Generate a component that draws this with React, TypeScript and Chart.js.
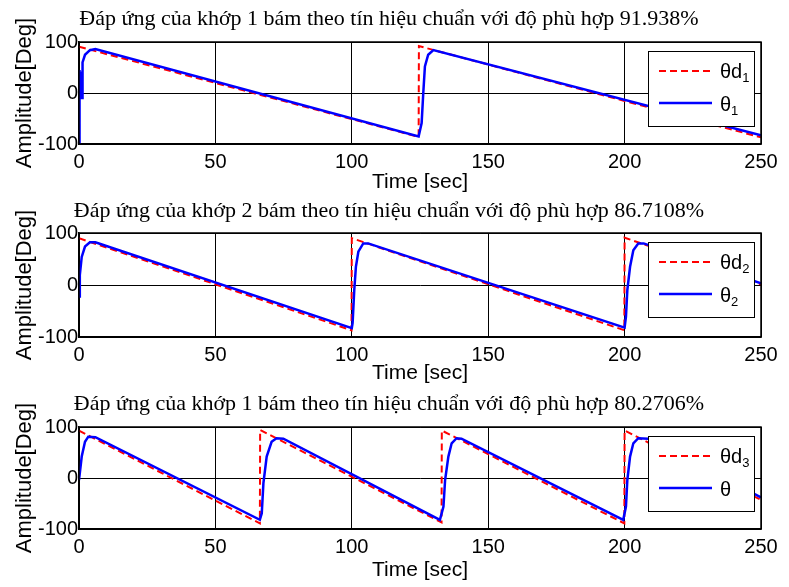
import React, { useEffect, useRef } from "react";
import { Chart, registerables } from "chart.js";

Chart.register(...registerables);

// ---------- data ----------
const TITLES = [
  "Đáp ứng của khớp 1 bám theo tín hiệu chuẩn với độ phù hợp 91.938%",
  "Đáp ứng của khớp 2 bám theo tín hiệu chuẩn với độ phù hợp 86.7108%",
  "Đáp ứng của khớp 1 bám theo tín hiệu chuẩn với độ phù hợp 80.2706%",
];

const X_TICKS = [0, 50, 100, 150, 200, 250];
const Y_TICKS = [-100, 0, 100];
const X_TITLE = "Time [sec]";
const Y_TITLE = "Amplitude[Deg]";

const REF_LABELS = ["θd", "θd", "θd"];
const REF_SUBS = ["1", "2", "3"];
const ACT_LABELS = ["θ", "θ", "θ"];
const ACT_SUBS = ["1", "2", ""];

// joint 1 (panel 1)
const REF1_T = [0, 4, 124.5, 124.6, 250];
const REF1_Y = [91, 85, -86, 92, -87];
const ACT1_T = [0, 0.1, 0.3, 0.5, 0.7, 0.9, 1.1, 1.3, 2.2, 4, 6, 124.5, 125.6, 126.2, 126.8, 128, 129.9, 250];
const ACT1_Y = [-100, 45, -5, 40, 0, 42, -10, 60, 75, 84, 86, -85, -59, 0, 52, 75, 84, -83];

// joint 2 (panel 2)
const REF2_T = [0, 99.9, 100, 199.9, 200, 250];
const REF2_Y = [90, -87, 90, -87, 91, 1];
const ACT2_T = [0, 0.3, 1, 2.2, 4, 6, 100, 100.3, 100.9, 101.5, 102.4, 104.2, 106, 200, 200.5, 201, 202, 203.2, 205, 207, 250];
const ACT2_Y = [-22, 19, 54, 74, 82, 82, -83, -73, -10, 35, 64, 80, 80, -82, -61, -10, 35, 67, 80, 80, 3];

// joint 3 (panel 3)
const REF3_T = [0, 66.3, 66.4, 132.9, 133, 199.9, 200, 250];
const REF3_Y = [93, -89, 94, -87, 93, -89, 93, -43];
const ACT3_T = [0, 1, 2.2, 3.4, 6, 66.3, 67, 67.6, 68.8, 70.6, 72.4, 74.9, 132.3, 133.6, 134.2, 135.4, 136.6, 138.4, 140.2, 199.5, 200.5, 201, 202, 203.2, 205, 208.7, 250];
const ACT3_Y = [-4, 42, 71, 81, 80, -82, -69, -10, 42, 71, 78, 77, -82, -56, -4, 42, 68, 78, 77, -82, -56, -4, 42, 68, 78, 77, -38];

const REF_T = [REF1_T, REF2_T, REF3_T];
const REF_Y = [REF1_Y, REF2_Y, REF3_Y];
const ACT_T = [ACT1_T, ACT2_T, ACT3_T];
const ACT_Y = [ACT1_Y, ACT2_Y, ACT3_Y];

// ---------- layout ----------
const W = 789;
const PANELS = [
  { top: 0, height: 195, padTop: 42, xAxisH: 51, xTitlePad: 0, titleY: 25 },
  { top: 195, height: 195, padTop: 38, xAxisH: 53, xTitlePad: 4, titleY: 22 },
  { top: 390, height: 197, padTop: 37, xAxisH: 58, xTitlePad: 4, titleY: 20 },
];

const SANS = '"Liberation Sans", Arial, sans-serif';
const SERIF = '"Liberation Serif", "Times New Roman", serif';

function toPoints(t: number[], y: number[]) {
  return t.map((v, i) => ({ x: v, y: y[i] }));
}

const decorPlugin = {
  id: "panelDecor",
  afterDraw(chart: any, _args: any, opts: any) {
    const ctx = chart.ctx as CanvasRenderingContext2D;
    const ca = chart.chartArea;
    ctx.save();
    // axes box
    ctx.strokeStyle = "#000";
    ctx.lineWidth = 1.5;
    ctx.strokeRect(ca.left, ca.top, ca.right - ca.left, ca.bottom - ca.top);

    // title
    ctx.fillStyle = "#000";
    ctx.font = "22px " + SERIF;
    ctx.textAlign = "center";
    ctx.textBaseline = "alphabetic";
    ctx.fillText(opts.title, 389, opts.titleY);

    // legend
    const bw = 106, bh = 75;
    const bx = ca.right - 7 - bw;
    const by = ca.top + 9;
    ctx.fillStyle = "#fff";
    ctx.fillRect(bx, by, bw, bh);
    ctx.strokeStyle = "#000";
    ctx.lineWidth = 1;
    ctx.strokeRect(bx + 0.5, by + 0.5, bw, bh);

    const ds = chart.data.datasets;
    const rows = [
      { d: ds[1], y: by + 20, ty: by + 21, label: opts.refLabel, sub: opts.refSub },
      { d: ds[0], y: by + 52, ty: by + 54, label: opts.actLabel, sub: opts.actSub },
    ];
    rows.forEach((r) => {
      ctx.strokeStyle = r.d.borderColor;
      ctx.lineWidth = r.d.borderWidth;
      ctx.setLineDash(r.d.borderDash || []);
      ctx.beginPath();
      ctx.moveTo(bx + 11, r.y);
      ctx.lineTo(bx + 64, r.y);
      ctx.stroke();
      ctx.setLineDash([]);
      ctx.fillStyle = "#000";
      ctx.textAlign = "left";
      ctx.textBaseline = "middle";
      ctx.font = "20px " + SANS;
      ctx.fillText(r.label, bx + 72, r.ty);
      const w = ctx.measureText(r.label).width;
      if (r.sub) {
        ctx.font = "13px " + SANS;
        ctx.fillText(r.sub, bx + 72 + w, r.ty + 6);
      }
    });
    ctx.restore();
  },
};

function Panel({ idx }: { idx: number }) {
  const ref = useRef<HTMLCanvasElement | null>(null);
  const p = PANELS[idx];
  useEffect(() => {
    if (!ref.current) return;
    const chart = new Chart(ref.current, {
      type: "line",
      data: {
        datasets: [
          {
            label: ACT_LABELS[idx] + ACT_SUBS[idx],
            data: toPoints(ACT_T[idx], ACT_Y[idx]),
            borderColor: "#0000ff",
            borderWidth: 2.5,
            pointRadius: 0,
            tension: 0,
            fill: false,
            order: 0,
          },
          {
            label: REF_LABELS[idx] + REF_SUBS[idx],
            data: toPoints(REF_T[idx], REF_Y[idx]),
            borderColor: "#ff0000",
            borderWidth: 2,
            borderDash: [7, 4],
            pointRadius: 0,
            tension: 0,
            fill: false,
            order: 1,
          },
        ],
      },
      options: {
        responsive: false,
        animation: false,
        events: [],
        layout: { padding: { top: p.padTop, right: 28, left: 0, bottom: 0 } },
        scales: {
          x: {
            type: "linear",
            min: 0,
            max: 250,
            afterBuildTicks: (s: any) => {
              s.ticks = X_TICKS.map((v) => ({ value: v }));
            },
            afterFit: (s: any) => {
              s.height = p.xAxisH;
            },
            ticks: {
              color: "#000",
              font: { family: SANS, size: 20 },
              padding: 6,
              maxRotation: 0,
              autoSkip: false,
            },
            grid: { color: "#000", lineWidth: 1, drawTicks: false },
            border: { display: true, color: "#000", width: 1.5 },
            title: {
              display: true,
              text: X_TITLE,
              color: "#000",
              font: { family: SANS, size: 21 },
              padding: { top: 0, bottom: p.xTitlePad },
            },
          },
          y: {
            type: "linear",
            min: -100,
            max: 100,
            afterBuildTicks: (s: any) => {
              s.ticks = Y_TICKS.map((v) => ({ value: v }));
            },
            afterFit: (s: any) => {
              s.width = 79;
            },
            ticks: {
              color: "#000",
              font: { family: SANS, size: 20 },
              padding: 1,
            },
            grid: { color: "#000", lineWidth: 1, drawTicks: false },
            border: { display: true, color: "#000", width: 1.5 },
            title: {
              display: true,
              text: Y_TITLE,
              color: "#000",
              font: { family: SANS, size: 22 },
              padding: { top: 12, bottom: 0 },
            },
          },
        },
        plugins: {
          legend: { display: false },
          tooltip: { enabled: false },
          title: { display: false },
          panelDecor: {
            title: TITLES[idx],
            titleY: p.titleY,
            refLabel: REF_LABELS[idx],
            refSub: REF_SUBS[idx],
            actLabel: ACT_LABELS[idx],
            actSub: ACT_SUBS[idx],
          },
        } as any,
      } as any,
      plugins: [decorPlugin],
    });
    return () => chart.destroy();
  }, [idx]);

  return (
    <canvas
      ref={ref}
      width={W}
      height={p.height}
      style={{ position: "absolute", left: 0, top: p.top, width: W, height: p.height }}
    />
  );
}

export default function App() {
  return (
    <div
      style={{
        position: "absolute",
        left: 0,
        top: 0,
        width: W,
        height: 587,
        background: "#fff",
        overflow: "hidden",
      }}
    >
      <Panel idx={0} />
      <Panel idx={1} />
      <Panel idx={2} />
    </div>
  );
}
